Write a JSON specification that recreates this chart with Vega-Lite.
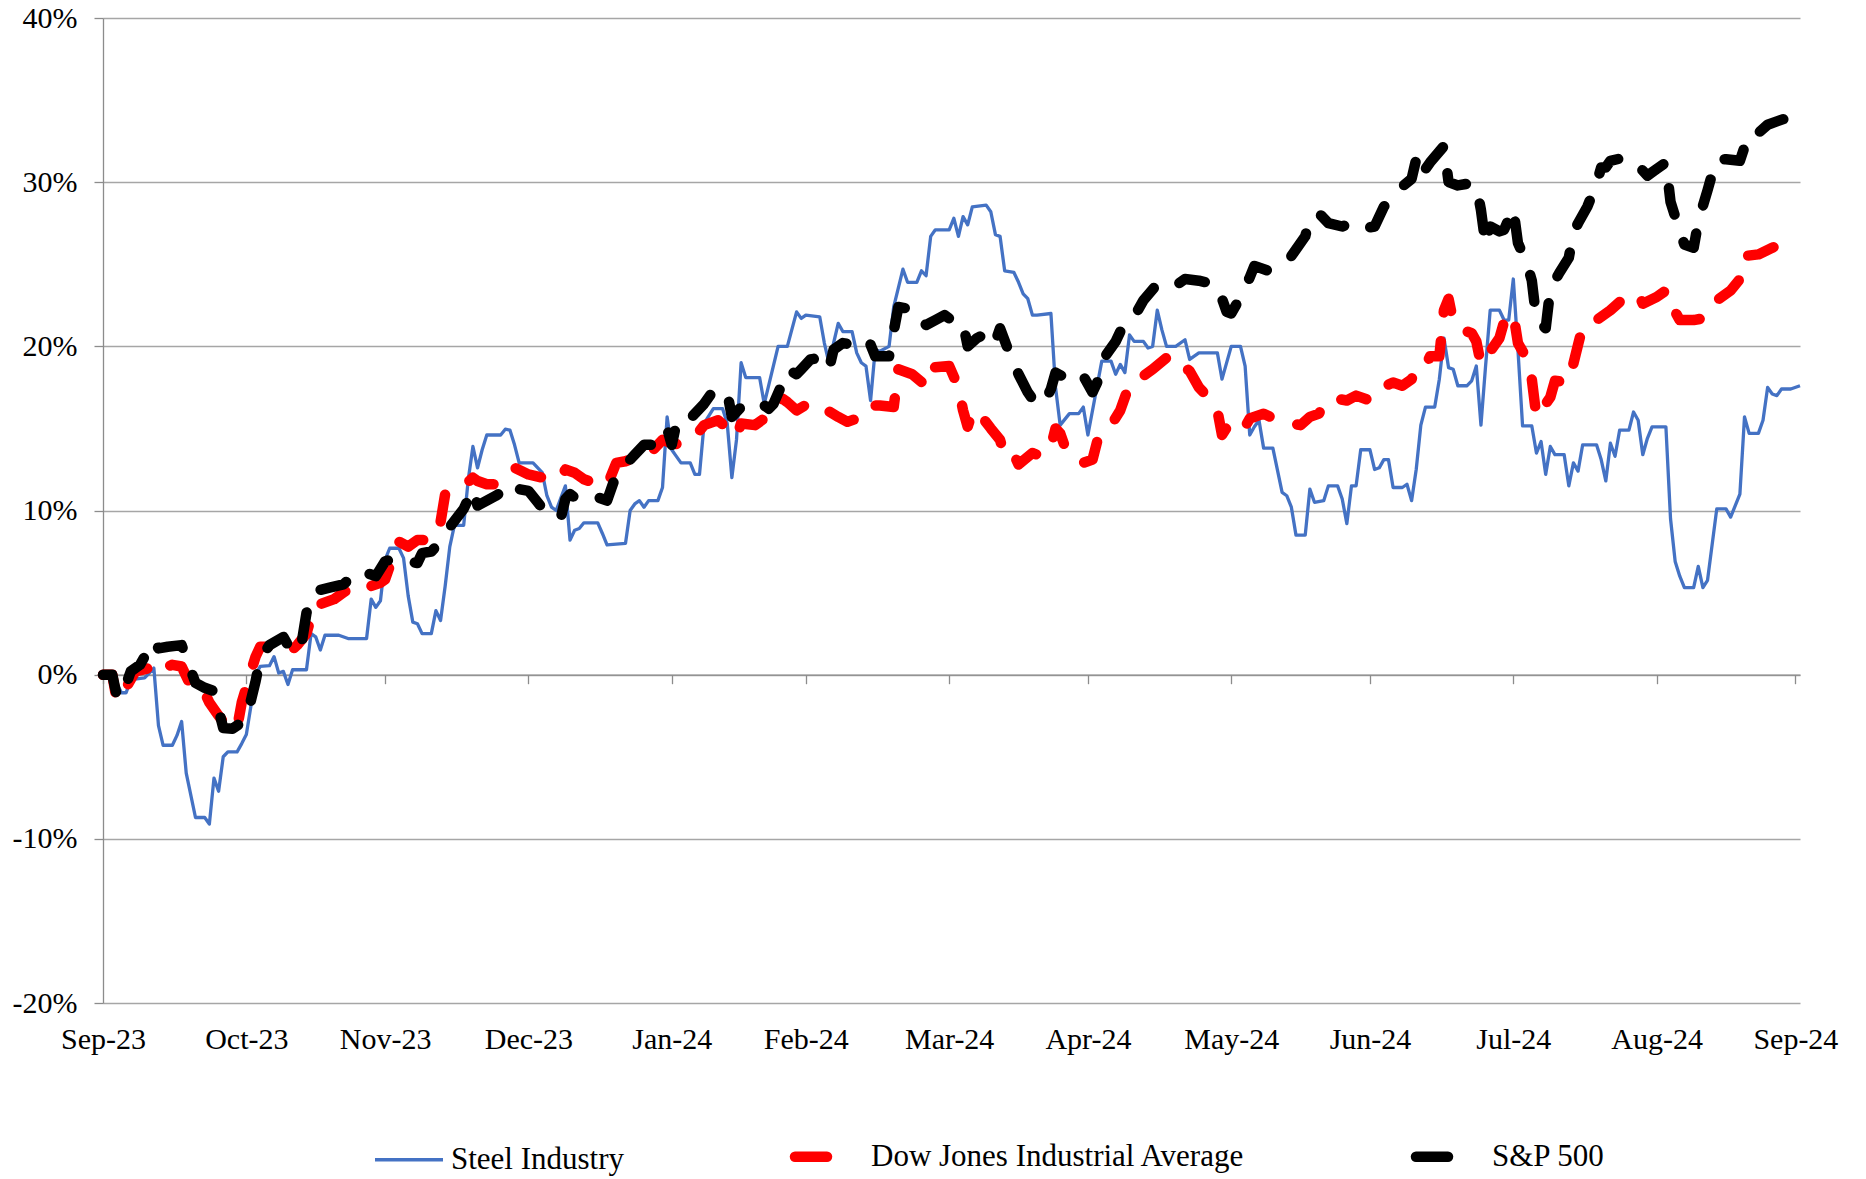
{
  "$schema": "https://vega.github.io/schema/vega-lite/v6.json",
  "width": 1697,
  "height": 985,
  "autosize": "none",
  "padding": {"left": 103, "top": 18, "right": 66, "bottom": 176},
  "background": "white",
  "config": {
    "view": {"stroke": null},
    "font": "Liberation Serif",
    "axis": {"labelFont": "Liberation Serif", "labelColor": "#000000"},
    "legend": {"labelFont": "Liberation Serif", "labelColor": "#000000"}
  },
  "data": {
    "values": [
      {"date":"2023-09-30","series":"Steel Industry","value":0},
      {"date":"2023-10-02","series":"Steel Industry","value":0},
      {"date":"2023-10-04","series":"Steel Industry","value":-1.1},
      {"date":"2023-10-05","series":"Steel Industry","value":-1.1},
      {"date":"2023-10-06","series":"Steel Industry","value":-0.3},
      {"date":"2023-10-09","series":"Steel Industry","value":-0.2},
      {"date":"2023-10-10","series":"Steel Industry","value":0.1},
      {"date":"2023-10-11","series":"Steel Industry","value":0.4},
      {"date":"2023-10-12","series":"Steel Industry","value":-3.1},
      {"date":"2023-10-13","series":"Steel Industry","value":-4.3},
      {"date":"2023-10-15","series":"Steel Industry","value":-4.3},
      {"date":"2023-10-16","series":"Steel Industry","value":-3.7},
      {"date":"2023-10-17","series":"Steel Industry","value":-2.85},
      {"date":"2023-10-18","series":"Steel Industry","value":-6.0},
      {"date":"2023-10-20","series":"Steel Industry","value":-8.7},
      {"date":"2023-10-22","series":"Steel Industry","value":-8.7},
      {"date":"2023-10-23","series":"Steel Industry","value":-9.1},
      {"date":"2023-10-24","series":"Steel Industry","value":-6.3},
      {"date":"2023-10-25","series":"Steel Industry","value":-7.1},
      {"date":"2023-10-26","series":"Steel Industry","value":-5.0},
      {"date":"2023-10-27","series":"Steel Industry","value":-4.7},
      {"date":"2023-10-29","series":"Steel Industry","value":-4.7},
      {"date":"2023-10-30","series":"Steel Industry","value":-4.2},
      {"date":"2023-10-31","series":"Steel Industry","value":-3.65},
      {"date":"2023-11-01","series":"Steel Industry","value":-1.9},
      {"date":"2023-11-02","series":"Steel Industry","value":0.0},
      {"date":"2023-11-03","series":"Steel Industry","value":0.5},
      {"date":"2023-11-05","series":"Steel Industry","value":0.55},
      {"date":"2023-11-06","series":"Steel Industry","value":1.1},
      {"date":"2023-11-07","series":"Steel Industry","value":0.1},
      {"date":"2023-11-08","series":"Steel Industry","value":0.2},
      {"date":"2023-11-09","series":"Steel Industry","value":-0.6},
      {"date":"2023-11-10","series":"Steel Industry","value":0.3},
      {"date":"2023-11-13","series":"Steel Industry","value":0.3},
      {"date":"2023-11-14","series":"Steel Industry","value":2.5},
      {"date":"2023-11-15","series":"Steel Industry","value":2.3},
      {"date":"2023-11-16","series":"Steel Industry","value":1.5},
      {"date":"2023-11-17","series":"Steel Industry","value":2.4},
      {"date":"2023-11-20","series":"Steel Industry","value":2.4},
      {"date":"2023-11-22","series":"Steel Industry","value":2.2},
      {"date":"2023-11-26","series":"Steel Industry","value":2.2},
      {"date":"2023-11-27","series":"Steel Industry","value":4.6},
      {"date":"2023-11-28","series":"Steel Industry","value":4.1},
      {"date":"2023-11-29","series":"Steel Industry","value":4.5},
      {"date":"2023-11-30","series":"Steel Industry","value":7.0},
      {"date":"2023-12-01","series":"Steel Industry","value":7.7},
      {"date":"2023-12-03","series":"Steel Industry","value":7.7},
      {"date":"2023-12-04","series":"Steel Industry","value":7.1},
      {"date":"2023-12-05","series":"Steel Industry","value":4.8},
      {"date":"2023-12-06","series":"Steel Industry","value":3.2},
      {"date":"2023-12-07","series":"Steel Industry","value":3.1},
      {"date":"2023-12-08","series":"Steel Industry","value":2.5},
      {"date":"2023-12-10","series":"Steel Industry","value":2.5},
      {"date":"2023-12-11","series":"Steel Industry","value":3.9},
      {"date":"2023-12-12","series":"Steel Industry","value":3.3},
      {"date":"2023-12-13","series":"Steel Industry","value":5.4},
      {"date":"2023-12-14","series":"Steel Industry","value":7.8},
      {"date":"2023-12-15","series":"Steel Industry","value":9.1},
      {"date":"2023-12-17","series":"Steel Industry","value":9.1},
      {"date":"2023-12-18","series":"Steel Industry","value":11.9},
      {"date":"2023-12-19","series":"Steel Industry","value":13.9},
      {"date":"2023-12-20","series":"Steel Industry","value":12.6},
      {"date":"2023-12-21","series":"Steel Industry","value":13.7},
      {"date":"2023-12-22","series":"Steel Industry","value":14.6},
      {"date":"2023-12-25","series":"Steel Industry","value":14.6},
      {"date":"2023-12-26","series":"Steel Industry","value":14.95},
      {"date":"2023-12-27","series":"Steel Industry","value":14.9},
      {"date":"2023-12-28","series":"Steel Industry","value":14.0},
      {"date":"2023-12-29","series":"Steel Industry","value":12.9},
      {"date":"2024-01-01","series":"Steel Industry","value":12.9},
      {"date":"2024-01-03","series":"Steel Industry","value":12.3},
      {"date":"2024-01-04","series":"Steel Industry","value":10.9},
      {"date":"2024-01-05","series":"Steel Industry","value":10.2},
      {"date":"2024-01-06","series":"Steel Industry","value":10.0},
      {"date":"2024-01-08","series":"Steel Industry","value":11.5},
      {"date":"2024-01-09","series":"Steel Industry","value":8.2},
      {"date":"2024-01-10","series":"Steel Industry","value":8.8},
      {"date":"2024-01-11","series":"Steel Industry","value":8.9},
      {"date":"2024-01-12","series":"Steel Industry","value":9.25},
      {"date":"2024-01-15","series":"Steel Industry","value":9.25},
      {"date":"2024-01-16","series":"Steel Industry","value":8.6},
      {"date":"2024-01-17","series":"Steel Industry","value":7.9},
      {"date":"2024-01-21","series":"Steel Industry","value":8.0},
      {"date":"2024-01-22","series":"Steel Industry","value":10.0},
      {"date":"2024-01-23","series":"Steel Industry","value":10.4},
      {"date":"2024-01-24","series":"Steel Industry","value":10.6},
      {"date":"2024-01-25","series":"Steel Industry","value":10.2},
      {"date":"2024-01-26","series":"Steel Industry","value":10.6},
      {"date":"2024-01-28","series":"Steel Industry","value":10.6},
      {"date":"2024-01-29","series":"Steel Industry","value":11.4},
      {"date":"2024-01-30","series":"Steel Industry","value":15.7},
      {"date":"2024-01-31","series":"Steel Industry","value":13.7},
      {"date":"2024-02-01","series":"Steel Industry","value":13.3},
      {"date":"2024-02-02","series":"Steel Industry","value":12.9},
      {"date":"2024-02-04","series":"Steel Industry","value":12.9},
      {"date":"2024-02-05","series":"Steel Industry","value":12.2},
      {"date":"2024-02-06","series":"Steel Industry","value":12.2},
      {"date":"2024-02-07","series":"Steel Industry","value":15.3},
      {"date":"2024-02-09","series":"Steel Industry","value":16.2},
      {"date":"2024-02-11","series":"Steel Industry","value":16.2},
      {"date":"2024-02-12","series":"Steel Industry","value":15.3},
      {"date":"2024-02-13","series":"Steel Industry","value":12.0},
      {"date":"2024-02-14","series":"Steel Industry","value":14.3},
      {"date":"2024-02-15","series":"Steel Industry","value":19.0},
      {"date":"2024-02-16","series":"Steel Industry","value":18.1},
      {"date":"2024-02-19","series":"Steel Industry","value":18.1},
      {"date":"2024-02-20","series":"Steel Industry","value":16.5},
      {"date":"2024-02-23","series":"Steel Industry","value":20.0},
      {"date":"2024-02-25","series":"Steel Industry","value":20.0},
      {"date":"2024-02-27","series":"Steel Industry","value":22.1},
      {"date":"2024-02-28","series":"Steel Industry","value":21.7},
      {"date":"2024-02-29","series":"Steel Industry","value":21.9},
      {"date":"2024-03-03","series":"Steel Industry","value":21.8},
      {"date":"2024-03-04","series":"Steel Industry","value":20.2},
      {"date":"2024-03-05","series":"Steel Industry","value":19.0},
      {"date":"2024-03-07","series":"Steel Industry","value":21.4},
      {"date":"2024-03-08","series":"Steel Industry","value":20.9},
      {"date":"2024-03-10","series":"Steel Industry","value":20.9},
      {"date":"2024-03-11","series":"Steel Industry","value":19.6},
      {"date":"2024-03-12","series":"Steel Industry","value":19.0},
      {"date":"2024-03-13","series":"Steel Industry","value":18.8},
      {"date":"2024-03-14","series":"Steel Industry","value":16.7},
      {"date":"2024-03-15","series":"Steel Industry","value":19.8},
      {"date":"2024-03-16","series":"Steel Industry","value":19.7},
      {"date":"2024-03-18","series":"Steel Industry","value":20.0},
      {"date":"2024-03-19","series":"Steel Industry","value":22.4},
      {"date":"2024-03-21","series":"Steel Industry","value":24.7},
      {"date":"2024-03-22","series":"Steel Industry","value":23.9},
      {"date":"2024-03-24","series":"Steel Industry","value":23.9},
      {"date":"2024-03-25","series":"Steel Industry","value":24.6},
      {"date":"2024-03-26","series":"Steel Industry","value":24.3},
      {"date":"2024-03-27","series":"Steel Industry","value":26.7},
      {"date":"2024-03-28","series":"Steel Industry","value":27.1},
      {"date":"2024-03-31","series":"Steel Industry","value":27.1},
      {"date":"2024-04-01","series":"Steel Industry","value":27.8},
      {"date":"2024-04-02","series":"Steel Industry","value":26.7},
      {"date":"2024-04-03","series":"Steel Industry","value":27.9},
      {"date":"2024-04-04","series":"Steel Industry","value":27.4},
      {"date":"2024-04-05","series":"Steel Industry","value":28.5},
      {"date":"2024-04-08","series":"Steel Industry","value":28.6},
      {"date":"2024-04-09","series":"Steel Industry","value":28.2},
      {"date":"2024-04-10","series":"Steel Industry","value":26.8},
      {"date":"2024-04-11","series":"Steel Industry","value":26.7},
      {"date":"2024-04-12","series":"Steel Industry","value":24.6},
      {"date":"2024-04-14","series":"Steel Industry","value":24.5},
      {"date":"2024-04-15","series":"Steel Industry","value":23.9},
      {"date":"2024-04-16","series":"Steel Industry","value":23.2},
      {"date":"2024-04-17","series":"Steel Industry","value":22.9},
      {"date":"2024-04-18","series":"Steel Industry","value":21.9},
      {"date":"2024-04-19","series":"Steel Industry","value":21.9},
      {"date":"2024-04-22","series":"Steel Industry","value":22.0},
      {"date":"2024-04-23","series":"Steel Industry","value":17.5},
      {"date":"2024-04-24","series":"Steel Industry","value":15.2},
      {"date":"2024-04-26","series":"Steel Industry","value":15.9},
      {"date":"2024-04-28","series":"Steel Industry","value":15.9},
      {"date":"2024-04-29","series":"Steel Industry","value":16.3},
      {"date":"2024-04-30","series":"Steel Industry","value":14.6},
      {"date":"2024-05-03","series":"Steel Industry","value":19.1},
      {"date":"2024-05-05","series":"Steel Industry","value":19.1},
      {"date":"2024-05-06","series":"Steel Industry","value":18.3},
      {"date":"2024-05-07","series":"Steel Industry","value":18.9},
      {"date":"2024-05-08","series":"Steel Industry","value":18.4},
      {"date":"2024-05-09","series":"Steel Industry","value":20.7},
      {"date":"2024-05-10","series":"Steel Industry","value":20.3},
      {"date":"2024-05-12","series":"Steel Industry","value":20.3},
      {"date":"2024-05-13","series":"Steel Industry","value":19.9},
      {"date":"2024-05-14","series":"Steel Industry","value":20.0},
      {"date":"2024-05-15","series":"Steel Industry","value":22.2},
      {"date":"2024-05-16","series":"Steel Industry","value":21.0},
      {"date":"2024-05-17","series":"Steel Industry","value":20.0},
      {"date":"2024-05-19","series":"Steel Industry","value":20.0},
      {"date":"2024-05-21","series":"Steel Industry","value":20.4},
      {"date":"2024-05-22","series":"Steel Industry","value":19.2},
      {"date":"2024-05-24","series":"Steel Industry","value":19.6},
      {"date":"2024-05-28","series":"Steel Industry","value":19.6},
      {"date":"2024-05-29","series":"Steel Industry","value":18.0},
      {"date":"2024-05-31","series":"Steel Industry","value":20.0},
      {"date":"2024-06-02","series":"Steel Industry","value":20.0},
      {"date":"2024-06-03","series":"Steel Industry","value":18.8},
      {"date":"2024-06-04","series":"Steel Industry","value":14.6},
      {"date":"2024-06-05","series":"Steel Industry","value":15.1},
      {"date":"2024-06-06","series":"Steel Industry","value":15.5},
      {"date":"2024-06-07","series":"Steel Industry","value":13.8},
      {"date":"2024-06-09","series":"Steel Industry","value":13.8},
      {"date":"2024-06-11","series":"Steel Industry","value":11.1},
      {"date":"2024-06-12","series":"Steel Industry","value":10.9},
      {"date":"2024-06-13","series":"Steel Industry","value":10.2},
      {"date":"2024-06-14","series":"Steel Industry","value":8.5},
      {"date":"2024-06-16","series":"Steel Industry","value":8.5},
      {"date":"2024-06-17","series":"Steel Industry","value":11.3},
      {"date":"2024-06-18","series":"Steel Industry","value":10.5},
      {"date":"2024-06-20","series":"Steel Industry","value":10.6},
      {"date":"2024-06-21","series":"Steel Industry","value":11.5},
      {"date":"2024-06-23","series":"Steel Industry","value":11.5},
      {"date":"2024-06-24","series":"Steel Industry","value":10.7},
      {"date":"2024-06-25","series":"Steel Industry","value":9.2},
      {"date":"2024-06-26","series":"Steel Industry","value":11.5},
      {"date":"2024-06-27","series":"Steel Industry","value":11.5},
      {"date":"2024-06-28","series":"Steel Industry","value":13.7},
      {"date":"2024-06-30","series":"Steel Industry","value":13.7},
      {"date":"2024-07-01","series":"Steel Industry","value":12.5},
      {"date":"2024-07-02","series":"Steel Industry","value":12.6},
      {"date":"2024-07-03","series":"Steel Industry","value":13.1},
      {"date":"2024-07-04","series":"Steel Industry","value":13.1},
      {"date":"2024-07-05","series":"Steel Industry","value":11.4},
      {"date":"2024-07-07","series":"Steel Industry","value":11.4},
      {"date":"2024-07-08","series":"Steel Industry","value":11.6},
      {"date":"2024-07-09","series":"Steel Industry","value":10.6},
      {"date":"2024-07-10","series":"Steel Industry","value":12.5},
      {"date":"2024-07-11","series":"Steel Industry","value":15.2},
      {"date":"2024-07-12","series":"Steel Industry","value":16.3},
      {"date":"2024-07-14","series":"Steel Industry","value":16.3},
      {"date":"2024-07-15","series":"Steel Industry","value":18.0},
      {"date":"2024-07-16","series":"Steel Industry","value":20.5},
      {"date":"2024-07-17","series":"Steel Industry","value":18.7},
      {"date":"2024-07-18","series":"Steel Industry","value":18.6},
      {"date":"2024-07-19","series":"Steel Industry","value":17.6},
      {"date":"2024-07-21","series":"Steel Industry","value":17.6},
      {"date":"2024-07-22","series":"Steel Industry","value":17.9},
      {"date":"2024-07-23","series":"Steel Industry","value":18.8},
      {"date":"2024-07-24","series":"Steel Industry","value":15.2},
      {"date":"2024-07-25","series":"Steel Industry","value":18.8},
      {"date":"2024-07-26","series":"Steel Industry","value":22.2},
      {"date":"2024-07-28","series":"Steel Industry","value":22.2},
      {"date":"2024-07-29","series":"Steel Industry","value":21.6},
      {"date":"2024-07-30","series":"Steel Industry","value":21.6},
      {"date":"2024-07-31","series":"Steel Industry","value":24.1},
      {"date":"2024-08-01","series":"Steel Industry","value":19.8},
      {"date":"2024-08-02","series":"Steel Industry","value":15.15},
      {"date":"2024-08-04","series":"Steel Industry","value":15.15},
      {"date":"2024-08-05","series":"Steel Industry","value":13.5},
      {"date":"2024-08-06","series":"Steel Industry","value":14.2},
      {"date":"2024-08-07","series":"Steel Industry","value":12.2},
      {"date":"2024-08-08","series":"Steel Industry","value":13.9},
      {"date":"2024-08-09","series":"Steel Industry","value":13.4},
      {"date":"2024-08-11","series":"Steel Industry","value":13.4},
      {"date":"2024-08-12","series":"Steel Industry","value":11.5},
      {"date":"2024-08-13","series":"Steel Industry","value":12.9},
      {"date":"2024-08-14","series":"Steel Industry","value":12.4},
      {"date":"2024-08-15","series":"Steel Industry","value":14.0},
      {"date":"2024-08-18","series":"Steel Industry","value":14.0},
      {"date":"2024-08-19","series":"Steel Industry","value":13.1},
      {"date":"2024-08-20","series":"Steel Industry","value":11.8},
      {"date":"2024-08-21","series":"Steel Industry","value":14.1},
      {"date":"2024-08-22","series":"Steel Industry","value":13.3},
      {"date":"2024-08-23","series":"Steel Industry","value":14.9},
      {"date":"2024-08-25","series":"Steel Industry","value":14.9},
      {"date":"2024-08-26","series":"Steel Industry","value":16.0},
      {"date":"2024-08-27","series":"Steel Industry","value":15.5},
      {"date":"2024-08-28","series":"Steel Industry","value":13.4},
      {"date":"2024-08-29","series":"Steel Industry","value":14.4},
      {"date":"2024-08-30","series":"Steel Industry","value":15.1},
      {"date":"2024-09-02","series":"Steel Industry","value":15.1},
      {"date":"2024-09-03","series":"Steel Industry","value":9.5},
      {"date":"2024-09-04","series":"Steel Industry","value":6.9},
      {"date":"2024-09-05","series":"Steel Industry","value":6.0},
      {"date":"2024-09-06","series":"Steel Industry","value":5.3},
      {"date":"2024-09-08","series":"Steel Industry","value":5.3},
      {"date":"2024-09-09","series":"Steel Industry","value":6.6},
      {"date":"2024-09-10","series":"Steel Industry","value":5.3},
      {"date":"2024-09-11","series":"Steel Industry","value":5.75},
      {"date":"2024-09-13","series":"Steel Industry","value":10.1},
      {"date":"2024-09-15","series":"Steel Industry","value":10.1},
      {"date":"2024-09-16","series":"Steel Industry","value":9.6},
      {"date":"2024-09-18","series":"Steel Industry","value":11.0},
      {"date":"2024-09-19","series":"Steel Industry","value":15.7},
      {"date":"2024-09-20","series":"Steel Industry","value":14.7},
      {"date":"2024-09-22","series":"Steel Industry","value":14.7},
      {"date":"2024-09-23","series":"Steel Industry","value":15.5},
      {"date":"2024-09-24","series":"Steel Industry","value":17.5},
      {"date":"2024-09-25","series":"Steel Industry","value":17.1},
      {"date":"2024-09-26","series":"Steel Industry","value":17.0},
      {"date":"2024-09-27","series":"Steel Industry","value":17.4},
      {"date":"2024-09-29","series":"Steel Industry","value":17.4},
      {"date":"2024-10-01","series":"Steel Industry","value":17.6},

      {"date":"2023-09-30","series":"Dow Jones Industrial Average","value":0},
      {"date":"2023-10-02","series":"Dow Jones Industrial Average","value":0},
      {"date":"2023-10-03","series":"Dow Jones Industrial Average","value":-1.6},
      {"date":"2023-10-05","series":"Dow Jones Industrial Average","value":-0.8},
      {"date":"2023-10-07","series":"Dow Jones Industrial Average","value":0.2},
      {"date":"2023-10-10","series":"Dow Jones Industrial Average","value":0.4},
      {"date":"2023-10-11","series":"Dow Jones Industrial Average","value":0.8},
      {"date":"2023-10-13","series":"Dow Jones Industrial Average","value":0.4},
      {"date":"2023-10-15","series":"Dow Jones Industrial Average","value":0.6},
      {"date":"2023-10-17","series":"Dow Jones Industrial Average","value":0.5},
      {"date":"2023-10-19","series":"Dow Jones Industrial Average","value":-0.7},
      {"date":"2023-10-20","series":"Dow Jones Industrial Average","value":-1.1},
      {"date":"2023-10-22","series":"Dow Jones Industrial Average","value":-1.1},
      {"date":"2023-10-23","series":"Dow Jones Industrial Average","value":-1.7},
      {"date":"2023-10-25","series":"Dow Jones Industrial Average","value":-2.5},
      {"date":"2023-10-27","series":"Dow Jones Industrial Average","value":-3.25},
      {"date":"2023-10-29","series":"Dow Jones Industrial Average","value":-3.25},
      {"date":"2023-10-30","series":"Dow Jones Industrial Average","value":-1.7},
      {"date":"2023-11-01","series":"Dow Jones Industrial Average","value":0.2},
      {"date":"2023-11-02","series":"Dow Jones Industrial Average","value":1.1},
      {"date":"2023-11-03","series":"Dow Jones Industrial Average","value":1.7},
      {"date":"2023-11-05","series":"Dow Jones Industrial Average","value":1.7},
      {"date":"2023-11-07","series":"Dow Jones Industrial Average","value":1.5},
      {"date":"2023-11-09","series":"Dow Jones Industrial Average","value":1.3},
      {"date":"2023-11-11","series":"Dow Jones Industrial Average","value":1.8},
      {"date":"2023-11-13","series":"Dow Jones Industrial Average","value":2.5},
      {"date":"2023-11-14","series":"Dow Jones Industrial Average","value":3.5},
      {"date":"2023-11-15","series":"Dow Jones Industrial Average","value":4.3},
      {"date":"2023-11-16","series":"Dow Jones Industrial Average","value":4.3},
      {"date":"2023-11-19","series":"Dow Jones Industrial Average","value":4.6},
      {"date":"2023-11-21","series":"Dow Jones Industrial Average","value":5.0},
      {"date":"2023-11-23","series":"Dow Jones Industrial Average","value":5.4},
      {"date":"2023-11-25","series":"Dow Jones Industrial Average","value":5.6},
      {"date":"2023-11-27","series":"Dow Jones Industrial Average","value":5.4},
      {"date":"2023-11-29","series":"Dow Jones Industrial Average","value":5.6},
      {"date":"2023-11-30","series":"Dow Jones Industrial Average","value":5.8},
      {"date":"2023-12-01","series":"Dow Jones Industrial Average","value":6.6},
      {"date":"2023-12-03","series":"Dow Jones Industrial Average","value":8.1},
      {"date":"2023-12-05","series":"Dow Jones Industrial Average","value":7.8},
      {"date":"2023-12-07","series":"Dow Jones Industrial Average","value":8.2},
      {"date":"2023-12-10","series":"Dow Jones Industrial Average","value":8.2},
      {"date":"2023-12-12","series":"Dow Jones Industrial Average","value":9.3},
      {"date":"2023-12-13","series":"Dow Jones Industrial Average","value":11.0},
      {"date":"2023-12-16","series":"Dow Jones Industrial Average","value":11.5},
      {"date":"2023-12-17","series":"Dow Jones Industrial Average","value":11.5},
      {"date":"2023-12-19","series":"Dow Jones Industrial Average","value":12.0},
      {"date":"2023-12-20","series":"Dow Jones Industrial Average","value":11.8},
      {"date":"2023-12-22","series":"Dow Jones Industrial Average","value":11.6},
      {"date":"2023-12-24","series":"Dow Jones Industrial Average","value":11.6},
      {"date":"2023-12-26","series":"Dow Jones Industrial Average","value":12.3},
      {"date":"2023-12-28","series":"Dow Jones Industrial Average","value":12.6},
      {"date":"2023-12-31","series":"Dow Jones Industrial Average","value":12.2},
      {"date":"2024-01-03","series":"Dow Jones Industrial Average","value":12.0},
      {"date":"2024-01-05","series":"Dow Jones Industrial Average","value":11.8},
      {"date":"2024-01-07","series":"Dow Jones Industrial Average","value":12.0},
      {"date":"2024-01-08","series":"Dow Jones Industrial Average","value":12.5},
      {"date":"2024-01-10","series":"Dow Jones Industrial Average","value":12.3},
      {"date":"2024-01-12","series":"Dow Jones Industrial Average","value":11.9},
      {"date":"2024-01-15","series":"Dow Jones Industrial Average","value":11.6},
      {"date":"2024-01-17","series":"Dow Jones Industrial Average","value":11.5},
      {"date":"2024-01-19","series":"Dow Jones Industrial Average","value":12.9},
      {"date":"2024-01-21","series":"Dow Jones Industrial Average","value":13.0},
      {"date":"2024-01-23","series":"Dow Jones Industrial Average","value":13.2},
      {"date":"2024-01-25","series":"Dow Jones Industrial Average","value":13.5},
      {"date":"2024-01-27","series":"Dow Jones Industrial Average","value":13.7},
      {"date":"2024-01-29","series":"Dow Jones Industrial Average","value":14.3},
      {"date":"2024-01-31","series":"Dow Jones Industrial Average","value":14.1},
      {"date":"2024-02-02","series":"Dow Jones Industrial Average","value":14.0},
      {"date":"2024-02-05","series":"Dow Jones Industrial Average","value":14.5},
      {"date":"2024-02-07","series":"Dow Jones Industrial Average","value":15.2},
      {"date":"2024-02-09","series":"Dow Jones Industrial Average","value":15.4},
      {"date":"2024-02-10","series":"Dow Jones Industrial Average","value":15.5},
      {"date":"2024-02-12","series":"Dow Jones Industrial Average","value":15.0},
      {"date":"2024-02-14","series":"Dow Jones Industrial Average","value":14.5},
      {"date":"2024-02-15","series":"Dow Jones Industrial Average","value":15.3},
      {"date":"2024-02-18","series":"Dow Jones Industrial Average","value":15.2},
      {"date":"2024-02-21","series":"Dow Jones Industrial Average","value":15.8},
      {"date":"2024-02-24","series":"Dow Jones Industrial Average","value":16.8},
      {"date":"2024-02-25","series":"Dow Jones Industrial Average","value":16.6},
      {"date":"2024-02-27","series":"Dow Jones Industrial Average","value":16.1},
      {"date":"2024-03-01","series":"Dow Jones Industrial Average","value":16.6},
      {"date":"2024-03-04","series":"Dow Jones Industrial Average","value":16.2},
      {"date":"2024-03-07","series":"Dow Jones Industrial Average","value":15.7},
      {"date":"2024-03-09","series":"Dow Jones Industrial Average","value":15.4},
      {"date":"2024-03-11","series":"Dow Jones Industrial Average","value":15.6},
      {"date":"2024-03-13","series":"Dow Jones Industrial Average","value":16.4},
      {"date":"2024-03-16","series":"Dow Jones Industrial Average","value":16.4},
      {"date":"2024-03-19","series":"Dow Jones Industrial Average","value":16.3},
      {"date":"2024-03-20","series":"Dow Jones Industrial Average","value":18.6},
      {"date":"2024-03-23","series":"Dow Jones Industrial Average","value":18.3},
      {"date":"2024-03-26","series":"Dow Jones Industrial Average","value":17.6},
      {"date":"2024-03-27","series":"Dow Jones Industrial Average","value":18.7},
      {"date":"2024-03-31","series":"Dow Jones Industrial Average","value":18.8},
      {"date":"2024-04-02","series":"Dow Jones Industrial Average","value":17.5},
      {"date":"2024-04-03","series":"Dow Jones Industrial Average","value":16.1},
      {"date":"2024-04-04","series":"Dow Jones Industrial Average","value":15.1},
      {"date":"2024-04-05","series":"Dow Jones Industrial Average","value":16.0},
      {"date":"2024-04-06","series":"Dow Jones Industrial Average","value":16.1},
      {"date":"2024-04-09","series":"Dow Jones Industrial Average","value":15.0},
      {"date":"2024-04-11","series":"Dow Jones Industrial Average","value":14.3},
      {"date":"2024-04-12","series":"Dow Jones Industrial Average","value":13.3},
      {"date":"2024-04-14","series":"Dow Jones Industrial Average","value":13.4},
      {"date":"2024-04-15","series":"Dow Jones Industrial Average","value":12.8},
      {"date":"2024-04-18","series":"Dow Jones Industrial Average","value":13.5},
      {"date":"2024-04-20","series":"Dow Jones Industrial Average","value":13.3},
      {"date":"2024-04-22","series":"Dow Jones Industrial Average","value":13.9},
      {"date":"2024-04-23","series":"Dow Jones Industrial Average","value":15.0},
      {"date":"2024-04-24","series":"Dow Jones Industrial Average","value":14.7},
      {"date":"2024-04-25","series":"Dow Jones Industrial Average","value":13.9},
      {"date":"2024-04-27","series":"Dow Jones Industrial Average","value":13.6},
      {"date":"2024-04-29","series":"Dow Jones Industrial Average","value":12.9},
      {"date":"2024-05-01","series":"Dow Jones Industrial Average","value":13.1},
      {"date":"2024-05-02","series":"Dow Jones Industrial Average","value":14.2},
      {"date":"2024-05-05","series":"Dow Jones Industrial Average","value":15.2},
      {"date":"2024-05-07","series":"Dow Jones Industrial Average","value":16.1},
      {"date":"2024-05-09","series":"Dow Jones Industrial Average","value":17.7},
      {"date":"2024-05-11","series":"Dow Jones Industrial Average","value":18.0},
      {"date":"2024-05-14","series":"Dow Jones Industrial Average","value":18.6},
      {"date":"2024-05-17","series":"Dow Jones Industrial Average","value":19.3},
      {"date":"2024-05-19","series":"Dow Jones Industrial Average","value":19.4},
      {"date":"2024-05-20","series":"Dow Jones Industrial Average","value":18.9},
      {"date":"2024-05-22","series":"Dow Jones Industrial Average","value":18.5},
      {"date":"2024-05-24","series":"Dow Jones Industrial Average","value":17.5},
      {"date":"2024-05-27","series":"Dow Jones Industrial Average","value":16.6},
      {"date":"2024-05-28","series":"Dow Jones Industrial Average","value":16.1},
      {"date":"2024-05-29","series":"Dow Jones Industrial Average","value":14.6},
      {"date":"2024-05-31","series":"Dow Jones Industrial Average","value":15.5},
      {"date":"2024-06-03","series":"Dow Jones Industrial Average","value":15.1},
      {"date":"2024-06-04","series":"Dow Jones Industrial Average","value":15.6},
      {"date":"2024-06-07","series":"Dow Jones Industrial Average","value":15.9},
      {"date":"2024-06-10","series":"Dow Jones Industrial Average","value":15.5},
      {"date":"2024-06-13","series":"Dow Jones Industrial Average","value":15.3},
      {"date":"2024-06-15","series":"Dow Jones Industrial Average","value":15.2},
      {"date":"2024-06-17","series":"Dow Jones Industrial Average","value":15.7},
      {"date":"2024-06-19","series":"Dow Jones Industrial Average","value":15.9},
      {"date":"2024-06-20","series":"Dow Jones Industrial Average","value":16.6},
      {"date":"2024-06-23","series":"Dow Jones Industrial Average","value":16.8},
      {"date":"2024-06-25","series":"Dow Jones Industrial Average","value":16.7},
      {"date":"2024-06-27","series":"Dow Jones Industrial Average","value":17.0},
      {"date":"2024-06-30","series":"Dow Jones Industrial Average","value":16.7},
      {"date":"2024-07-02","series":"Dow Jones Industrial Average","value":17.4},
      {"date":"2024-07-05","series":"Dow Jones Industrial Average","value":17.8},
      {"date":"2024-07-07","series":"Dow Jones Industrial Average","value":17.6},
      {"date":"2024-07-09","series":"Dow Jones Industrial Average","value":18.0},
      {"date":"2024-07-10","series":"Dow Jones Industrial Average","value":18.7},
      {"date":"2024-07-12","series":"Dow Jones Industrial Average","value":18.8},
      {"date":"2024-07-13","series":"Dow Jones Industrial Average","value":19.4},
      {"date":"2024-07-15","series":"Dow Jones Industrial Average","value":19.4},
      {"date":"2024-07-16","series":"Dow Jones Industrial Average","value":22.2},
      {"date":"2024-07-17","series":"Dow Jones Industrial Average","value":22.9},
      {"date":"2024-07-18","series":"Dow Jones Industrial Average","value":21.5},
      {"date":"2024-07-20","series":"Dow Jones Industrial Average","value":21.0},
      {"date":"2024-07-22","series":"Dow Jones Industrial Average","value":20.8},
      {"date":"2024-07-23","series":"Dow Jones Industrial Average","value":20.3},
      {"date":"2024-07-24","series":"Dow Jones Industrial Average","value":18.9},
      {"date":"2024-07-26","series":"Dow Jones Industrial Average","value":19.7},
      {"date":"2024-07-28","series":"Dow Jones Industrial Average","value":20.5},
      {"date":"2024-07-29","series":"Dow Jones Industrial Average","value":21.5},
      {"date":"2024-07-31","series":"Dow Jones Industrial Average","value":22.0},
      {"date":"2024-08-01","series":"Dow Jones Industrial Average","value":20.2},
      {"date":"2024-08-03","series":"Dow Jones Industrial Average","value":19.2},
      {"date":"2024-08-04","series":"Dow Jones Industrial Average","value":18.0},
      {"date":"2024-08-05","series":"Dow Jones Industrial Average","value":15.7},
      {"date":"2024-08-08","series":"Dow Jones Industrial Average","value":16.9},
      {"date":"2024-08-09","series":"Dow Jones Industrial Average","value":17.9},
      {"date":"2024-08-12","series":"Dow Jones Industrial Average","value":17.8},
      {"date":"2024-08-14","series":"Dow Jones Industrial Average","value":20.1},
      {"date":"2024-08-15","series":"Dow Jones Industrial Average","value":21.2},
      {"date":"2024-08-18","series":"Dow Jones Industrial Average","value":21.6},
      {"date":"2024-08-21","series":"Dow Jones Industrial Average","value":22.2},
      {"date":"2024-08-23","series":"Dow Jones Industrial Average","value":22.7},
      {"date":"2024-08-25","series":"Dow Jones Industrial Average","value":23.1},
      {"date":"2024-08-27","series":"Dow Jones Industrial Average","value":23.2},
      {"date":"2024-08-28","series":"Dow Jones Industrial Average","value":22.6},
      {"date":"2024-08-31","series":"Dow Jones Industrial Average","value":23.0},
      {"date":"2024-09-02","series":"Dow Jones Industrial Average","value":23.4},
      {"date":"2024-09-03","series":"Dow Jones Industrial Average","value":22.3},
      {"date":"2024-09-04","series":"Dow Jones Industrial Average","value":22.1},
      {"date":"2024-09-05","series":"Dow Jones Industrial Average","value":21.6},
      {"date":"2024-09-08","series":"Dow Jones Industrial Average","value":21.6},
      {"date":"2024-09-10","series":"Dow Jones Industrial Average","value":21.7},
      {"date":"2024-09-13","series":"Dow Jones Industrial Average","value":22.8},
      {"date":"2024-09-16","series":"Dow Jones Industrial Average","value":23.4},
      {"date":"2024-09-18","series":"Dow Jones Industrial Average","value":24.1},
      {"date":"2024-09-19","series":"Dow Jones Industrial Average","value":25.5},
      {"date":"2024-09-22","series":"Dow Jones Industrial Average","value":25.6},
      {"date":"2024-09-25","series":"Dow Jones Industrial Average","value":26.0},
      {"date":"2024-09-27","series":"Dow Jones Industrial Average","value":26.3},
      {"date":"2024-10-01","series":"Dow Jones Industrial Average","value":26.4},

      {"date":"2023-09-30","series":"S&P 500","value":0},
      {"date":"2023-10-02","series":"S&P 500","value":0},
      {"date":"2023-10-03","series":"S&P 500","value":-1.3},
      {"date":"2023-10-04","series":"S&P 500","value":-1.4},
      {"date":"2023-10-06","series":"S&P 500","value":0.2},
      {"date":"2023-10-08","series":"S&P 500","value":0.6},
      {"date":"2023-10-11","series":"S&P 500","value":2.1},
      {"date":"2023-10-12","series":"S&P 500","value":1.6},
      {"date":"2023-10-14","series":"S&P 500","value":1.7},
      {"date":"2023-10-17","series":"S&P 500","value":1.8},
      {"date":"2023-10-20","series":"S&P 500","value":-0.5},
      {"date":"2023-10-22","series":"S&P 500","value":-0.8},
      {"date":"2023-10-24","series":"S&P 500","value":-1.0},
      {"date":"2023-10-26","series":"S&P 500","value":-3.25},
      {"date":"2023-10-28","series":"S&P 500","value":-3.3},
      {"date":"2023-10-31","series":"S&P 500","value":-2.7},
      {"date":"2023-11-02","series":"S&P 500","value":-0.4},
      {"date":"2023-11-03","series":"S&P 500","value":1.0},
      {"date":"2023-11-05","series":"S&P 500","value":1.8},
      {"date":"2023-11-08","series":"S&P 500","value":2.3},
      {"date":"2023-11-10","series":"S&P 500","value":1.3},
      {"date":"2023-11-12","series":"S&P 500","value":2.0},
      {"date":"2023-11-13","series":"S&P 500","value":3.75},
      {"date":"2023-11-14","series":"S&P 500","value":4.8},
      {"date":"2023-11-15","series":"S&P 500","value":5.1},
      {"date":"2023-11-18","series":"S&P 500","value":5.3},
      {"date":"2023-11-21","series":"S&P 500","value":5.5},
      {"date":"2023-11-23","series":"S&P 500","value":6.0},
      {"date":"2023-11-25","series":"S&P 500","value":6.4},
      {"date":"2023-11-26","series":"S&P 500","value":6.2},
      {"date":"2023-11-28","series":"S&P 500","value":6.0},
      {"date":"2023-11-30","series":"S&P 500","value":6.9},
      {"date":"2023-12-01","series":"S&P 500","value":7.0},
      {"date":"2023-12-03","series":"S&P 500","value":7.2},
      {"date":"2023-12-05","series":"S&P 500","value":6.9},
      {"date":"2023-12-07","series":"S&P 500","value":6.8},
      {"date":"2023-12-08","series":"S&P 500","value":7.4},
      {"date":"2023-12-10","series":"S&P 500","value":7.5},
      {"date":"2023-12-12","series":"S&P 500","value":8.1},
      {"date":"2023-12-14","series":"S&P 500","value":9.0},
      {"date":"2023-12-17","series":"S&P 500","value":10.1},
      {"date":"2023-12-19","series":"S&P 500","value":11.3},
      {"date":"2023-12-20","series":"S&P 500","value":10.3},
      {"date":"2023-12-22","series":"S&P 500","value":10.6},
      {"date":"2023-12-24","series":"S&P 500","value":10.9},
      {"date":"2023-12-26","series":"S&P 500","value":11.3},
      {"date":"2023-12-27","series":"S&P 500","value":11.7},
      {"date":"2023-12-29","series":"S&P 500","value":11.3},
      {"date":"2023-12-31","series":"S&P 500","value":11.2},
      {"date":"2024-01-02","series":"S&P 500","value":10.5},
      {"date":"2024-01-04","series":"S&P 500","value":9.8},
      {"date":"2024-01-06","series":"S&P 500","value":9.55},
      {"date":"2024-01-07","series":"S&P 500","value":9.55},
      {"date":"2024-01-08","series":"S&P 500","value":10.7},
      {"date":"2024-01-09","series":"S&P 500","value":11.0},
      {"date":"2024-01-11","series":"S&P 500","value":10.6},
      {"date":"2024-01-14","series":"S&P 500","value":10.9},
      {"date":"2024-01-17","series":"S&P 500","value":10.6},
      {"date":"2024-01-19","series":"S&P 500","value":12.2},
      {"date":"2024-01-21","series":"S&P 500","value":12.8},
      {"date":"2024-01-23","series":"S&P 500","value":13.4},
      {"date":"2024-01-25","series":"S&P 500","value":14.0},
      {"date":"2024-01-27","series":"S&P 500","value":14.0},
      {"date":"2024-01-29","series":"S&P 500","value":14.9},
      {"date":"2024-01-30","series":"S&P 500","value":15.0},
      {"date":"2024-01-31","series":"S&P 500","value":14.0},
      {"date":"2024-02-01","series":"S&P 500","value":15.3},
      {"date":"2024-02-02","series":"S&P 500","value":15.7},
      {"date":"2024-02-04","series":"S&P 500","value":15.6},
      {"date":"2024-02-07","series":"S&P 500","value":16.5},
      {"date":"2024-02-09","series":"S&P 500","value":17.3},
      {"date":"2024-02-12","series":"S&P 500","value":17.2},
      {"date":"2024-02-13","series":"S&P 500","value":15.7},
      {"date":"2024-02-15","series":"S&P 500","value":16.3},
      {"date":"2024-02-17","series":"S&P 500","value":16.7},
      {"date":"2024-02-19","series":"S&P 500","value":16.6},
      {"date":"2024-02-21","series":"S&P 500","value":16.2},
      {"date":"2024-02-22","series":"S&P 500","value":16.5},
      {"date":"2024-02-24","series":"S&P 500","value":17.8},
      {"date":"2024-02-25","series":"S&P 500","value":18.6},
      {"date":"2024-02-27","series":"S&P 500","value":18.3},
      {"date":"2024-02-28","series":"S&P 500","value":18.6},
      {"date":"2024-03-01","series":"S&P 500","value":19.2},
      {"date":"2024-03-03","series":"S&P 500","value":19.3},
      {"date":"2024-03-05","series":"S&P 500","value":18.6},
      {"date":"2024-03-06","series":"S&P 500","value":19.8},
      {"date":"2024-03-08","series":"S&P 500","value":20.2},
      {"date":"2024-03-10","series":"S&P 500","value":20.1},
      {"date":"2024-03-13","series":"S&P 500","value":20.5},
      {"date":"2024-03-14","series":"S&P 500","value":20.1},
      {"date":"2024-03-15","series":"S&P 500","value":19.4},
      {"date":"2024-03-18","series":"S&P 500","value":19.4},
      {"date":"2024-03-20","series":"S&P 500","value":22.4},
      {"date":"2024-03-24","series":"S&P 500","value":22.2},
      {"date":"2024-03-26","series":"S&P 500","value":21.3},
      {"date":"2024-03-28","series":"S&P 500","value":21.6},
      {"date":"2024-03-30","series":"S&P 500","value":21.9},
      {"date":"2024-04-01","series":"S&P 500","value":21.5},
      {"date":"2024-04-02","series":"S&P 500","value":21.6},
      {"date":"2024-04-03","series":"S&P 500","value":21.4},
      {"date":"2024-04-04","series":"S&P 500","value":20.0},
      {"date":"2024-04-06","series":"S&P 500","value":20.5},
      {"date":"2024-04-09","series":"S&P 500","value":20.9},
      {"date":"2024-04-10","series":"S&P 500","value":20.3},
      {"date":"2024-04-11","series":"S&P 500","value":21.1},
      {"date":"2024-04-13","series":"S&P 500","value":19.6},
      {"date":"2024-04-15","series":"S&P 500","value":18.3},
      {"date":"2024-04-17","series":"S&P 500","value":17.2},
      {"date":"2024-04-19","series":"S&P 500","value":16.4},
      {"date":"2024-04-21","series":"S&P 500","value":16.8},
      {"date":"2024-04-22","series":"S&P 500","value":17.4},
      {"date":"2024-04-23","series":"S&P 500","value":18.4},
      {"date":"2024-04-25","series":"S&P 500","value":18.1},
      {"date":"2024-04-27","series":"S&P 500","value":18.5},
      {"date":"2024-04-29","series":"S&P 500","value":18.2},
      {"date":"2024-05-01","series":"S&P 500","value":17.2},
      {"date":"2024-05-02","series":"S&P 500","value":17.8},
      {"date":"2024-05-04","series":"S&P 500","value":19.5},
      {"date":"2024-05-06","series":"S&P 500","value":20.3},
      {"date":"2024-05-07","series":"S&P 500","value":20.9},
      {"date":"2024-05-08","series":"S&P 500","value":21.0},
      {"date":"2024-05-09","series":"S&P 500","value":21.4},
      {"date":"2024-05-10","series":"S&P 500","value":21.8},
      {"date":"2024-05-12","series":"S&P 500","value":22.8},
      {"date":"2024-05-15","series":"S&P 500","value":23.8},
      {"date":"2024-05-17","series":"S&P 500","value":23.6},
      {"date":"2024-05-19","series":"S&P 500","value":23.7},
      {"date":"2024-05-21","series":"S&P 500","value":24.1},
      {"date":"2024-05-24","series":"S&P 500","value":24.0},
      {"date":"2024-05-27","series":"S&P 500","value":23.8},
      {"date":"2024-05-28","series":"S&P 500","value":23.7},
      {"date":"2024-05-30","series":"S&P 500","value":22.1},
      {"date":"2024-05-31","series":"S&P 500","value":22.0},
      {"date":"2024-06-02","series":"S&P 500","value":23.0},
      {"date":"2024-06-04","series":"S&P 500","value":24.2},
      {"date":"2024-06-05","series":"S&P 500","value":24.9},
      {"date":"2024-06-08","series":"S&P 500","value":24.6},
      {"date":"2024-06-10","series":"S&P 500","value":25.0},
      {"date":"2024-06-13","series":"S&P 500","value":25.5},
      {"date":"2024-06-16","series":"S&P 500","value":26.7},
      {"date":"2024-06-17","series":"S&P 500","value":27.8},
      {"date":"2024-06-19","series":"S&P 500","value":28.1},
      {"date":"2024-06-21","series":"S&P 500","value":27.5},
      {"date":"2024-06-24","series":"S&P 500","value":27.3},
      {"date":"2024-06-27","series":"S&P 500","value":27.6},
      {"date":"2024-06-29","series":"S&P 500","value":27.2},
      {"date":"2024-07-01","series":"S&P 500","value":27.3},
      {"date":"2024-07-03","series":"S&P 500","value":28.5},
      {"date":"2024-07-06","series":"S&P 500","value":29.5},
      {"date":"2024-07-09","series":"S&P 500","value":30.2},
      {"date":"2024-07-10","series":"S&P 500","value":31.4},
      {"date":"2024-07-11","series":"S&P 500","value":30.4},
      {"date":"2024-07-13","series":"S&P 500","value":31.2},
      {"date":"2024-07-16","series":"S&P 500","value":32.2},
      {"date":"2024-07-17","series":"S&P 500","value":30.0},
      {"date":"2024-07-19","series":"S&P 500","value":29.8},
      {"date":"2024-07-21","series":"S&P 500","value":29.9},
      {"date":"2024-07-23","series":"S&P 500","value":29.8},
      {"date":"2024-07-24","series":"S&P 500","value":28.3},
      {"date":"2024-07-25","series":"S&P 500","value":26.2},
      {"date":"2024-07-26","series":"S&P 500","value":27.3},
      {"date":"2024-07-28","series":"S&P 500","value":27.0},
      {"date":"2024-07-29","series":"S&P 500","value":27.1},
      {"date":"2024-07-31","series":"S&P 500","value":28.4},
      {"date":"2024-08-01","series":"S&P 500","value":26.3},
      {"date":"2024-08-03","series":"S&P 500","value":25.0},
      {"date":"2024-08-04","series":"S&P 500","value":24.0},
      {"date":"2024-08-05","series":"S&P 500","value":21.6},
      {"date":"2024-08-07","series":"S&P 500","value":21.1},
      {"date":"2024-08-08","series":"S&P 500","value":23.5},
      {"date":"2024-08-10","series":"S&P 500","value":24.5},
      {"date":"2024-08-12","series":"S&P 500","value":25.4},
      {"date":"2024-08-13","series":"S&P 500","value":26.9},
      {"date":"2024-08-14","series":"S&P 500","value":27.5},
      {"date":"2024-08-16","series":"S&P 500","value":28.5},
      {"date":"2024-08-18","series":"S&P 500","value":29.9},
      {"date":"2024-08-19","series":"S&P 500","value":30.9},
      {"date":"2024-08-20","series":"S&P 500","value":30.9},
      {"date":"2024-08-21","series":"S&P 500","value":31.3},
      {"date":"2024-08-24","series":"S&P 500","value":31.5},
      {"date":"2024-08-26","series":"S&P 500","value":31.3},
      {"date":"2024-08-27","series":"S&P 500","value":31.0},
      {"date":"2024-08-29","series":"S&P 500","value":30.4},
      {"date":"2024-08-31","series":"S&P 500","value":30.8},
      {"date":"2024-09-02","series":"S&P 500","value":31.2},
      {"date":"2024-09-03","series":"S&P 500","value":28.8},
      {"date":"2024-09-05","series":"S&P 500","value":27.0},
      {"date":"2024-09-06","series":"S&P 500","value":26.2},
      {"date":"2024-09-08","series":"S&P 500","value":26.0},
      {"date":"2024-09-09","series":"S&P 500","value":27.6},
      {"date":"2024-09-11","series":"S&P 500","value":29.5},
      {"date":"2024-09-12","series":"S&P 500","value":30.5},
      {"date":"2024-09-13","series":"S&P 500","value":31.4},
      {"date":"2024-09-15","series":"S&P 500","value":31.4},
      {"date":"2024-09-18","series":"S&P 500","value":31.3},
      {"date":"2024-09-20","series":"S&P 500","value":33.0},
      {"date":"2024-09-22","series":"S&P 500","value":33.0},
      {"date":"2024-09-24","series":"S&P 500","value":33.5},
      {"date":"2024-09-26","series":"S&P 500","value":33.7},
      {"date":"2024-09-28","series":"S&P 500","value":33.9},
      {"date":"2024-09-30","series":"S&P 500","value":33.8}
    ]
  },
  "encoding": {
    "y": {
      "field": "value",
      "type": "quantitative",
      "scale": {"domain": [-20, 40], "nice": false, "zero": false},
      "axis": {
        "title": null,
        "values": [-20, -10, 0, 10, 20, 30, 40],
        "labelExpr": "datum.value + '%'",
        "grid": true,
        "gridColor": "#A6A6A6",
        "gridWidth": 1.3,
        "domain": true,
        "domainColor": "#8C8C8C",
        "domainWidth": 1.3,
        "ticks": true,
        "tickSize": 9,
        "tickColor": "#8C8C8C",
        "tickWidth": 1.3,
        "labelFontSize": 30,
        "labelPadding": 17,
        "labelColor": "#000000"
      }
    },
    "color": {
      "field": "series",
      "type": "nominal",
      "scale": {
        "domain": ["Steel Industry", "Dow Jones Industrial Average", "S&P 500"],
        "range": ["#4472C4", "#FF0000", "#000000"]
      },
      "legend": {
        "title": null,
        "orient": "none",
        "legendX": 290.5,
        "legendY": 1123,
        "direction": "horizontal",
        "padding": 0,
        "symbolType": "stroke",
        "symbolSize": 4624,
        "symbolStrokeWidth": 3.5,
        "labelFontSize": 31,
        "labelOffset": 26.5,
        "labelLimit": 0,
        "columnPadding": 149,
        "encode": {
          "symbols": {
            "update": {
              "strokeWidth": {"signal": "datum.value === 'Steel Industry' ? 3.5 : 10.5"},
              "strokeDash": {"signal": "datum.value === 'Steel Industry' ? [1, 0] : [32, 200]"},
              "strokeCap": {"signal": "datum.value === 'Steel Industry' ? 'butt' : 'round'"}
            }
          }
        }
      }
    }
  },
  "layer": [
    {
      "transform": [{"filter": "datum.series === 'Steel Industry'"}],
      "mark": {"type": "line", "strokeWidth": 3.3, "strokeJoin": "round"},
      "encoding": {
        "x": {
          "field": "date",
          "type": "temporal",
          "scale": {"type": "utc", "domain": [{"year": 2023, "month": 9, "date": 30, "utc": true}, {"year": 2024, "month": 10, "date": 1, "utc": true}]},
          "axis": {
            "orient": "bottom",
            "title": null,
            "values": [
              {"year": 2023, "month": 9, "date": 30, "utc": true},
              {"year": 2023, "month": 10, "date": 31, "utc": true},
              {"year": 2023, "month": 11, "date": 30, "utc": true},
              {"year": 2023, "month": 12, "date": 31, "utc": true},
              {"year": 2024, "month": 1, "date": 31, "utc": true},
              {"year": 2024, "month": 2, "date": 29, "utc": true},
              {"year": 2024, "month": 3, "date": 31, "utc": true},
              {"year": 2024, "month": 4, "date": 30, "utc": true},
              {"year": 2024, "month": 5, "date": 31, "utc": true},
              {"year": 2024, "month": 6, "date": 30, "utc": true},
              {"year": 2024, "month": 7, "date": 31, "utc": true},
              {"year": 2024, "month": 8, "date": 31, "utc": true},
              {"year": 2024, "month": 9, "date": 30, "utc": true}
            ],
            "labelExpr": "utcFormat(datum.value, '%b-%y')",
            "domain": false,
            "ticks": false,
            "grid": false,
            "labelFontSize": 30,
            "labelPadding": 21,
            "labelOverlap": false,
            "labelFlush": false,
            "labelBound": false,
            "labelColor": "#000000"
          }
        }
      }
    },
    {
      "transform": [{"filter": "datum.series === 'Dow Jones Industrial Average'"}],
      "mark": {"type": "line", "strokeWidth": 10.5, "strokeDash": [27, 29], "strokeCap": "round", "strokeJoin": "round"},
      "encoding": {
        "x": {
          "field": "date",
          "type": "temporal",
          "scale": {"type": "utc", "domain": [{"year": 2023, "month": 9, "date": 30, "utc": true}, {"year": 2024, "month": 10, "date": 1, "utc": true}]},
          "axis": {
            "orient": "bottom",
            "offset": -328.3,
            "title": null,
            "values": [
              {"year": 2023, "month": 9, "date": 30, "utc": true},
              {"year": 2023, "month": 10, "date": 31, "utc": true},
              {"year": 2023, "month": 11, "date": 30, "utc": true},
              {"year": 2023, "month": 12, "date": 31, "utc": true},
              {"year": 2024, "month": 1, "date": 31, "utc": true},
              {"year": 2024, "month": 2, "date": 29, "utc": true},
              {"year": 2024, "month": 3, "date": 31, "utc": true},
              {"year": 2024, "month": 4, "date": 30, "utc": true},
              {"year": 2024, "month": 5, "date": 31, "utc": true},
              {"year": 2024, "month": 6, "date": 30, "utc": true},
              {"year": 2024, "month": 7, "date": 31, "utc": true},
              {"year": 2024, "month": 8, "date": 31, "utc": true},
              {"year": 2024, "month": 9, "date": 30, "utc": true}
            ],
            "labels": false,
            "domain": true,
            "domainColor": "#8C8C8C",
            "domainWidth": 1.3,
            "ticks": true,
            "tickSize": 9,
            "tickColor": "#8C8C8C",
            "tickWidth": 1.3,
            "grid": false
          }
        }
      }
    },
    {
      "transform": [{"filter": "datum.series === 'S&P 500'"}],
      "mark": {"type": "line", "strokeWidth": 10.5, "strokeDash": [27, 29], "strokeCap": "round", "strokeJoin": "round"},
      "encoding": {
        "x": {
          "field": "date",
          "type": "temporal",
          "scale": {"type": "utc", "domain": [{"year": 2023, "month": 9, "date": 30, "utc": true}, {"year": 2024, "month": 10, "date": 1, "utc": true}]},
          "axis": null
        }
      }
    }
  ],
  "resolve": {"axis": {"x": "independent"}}
}
